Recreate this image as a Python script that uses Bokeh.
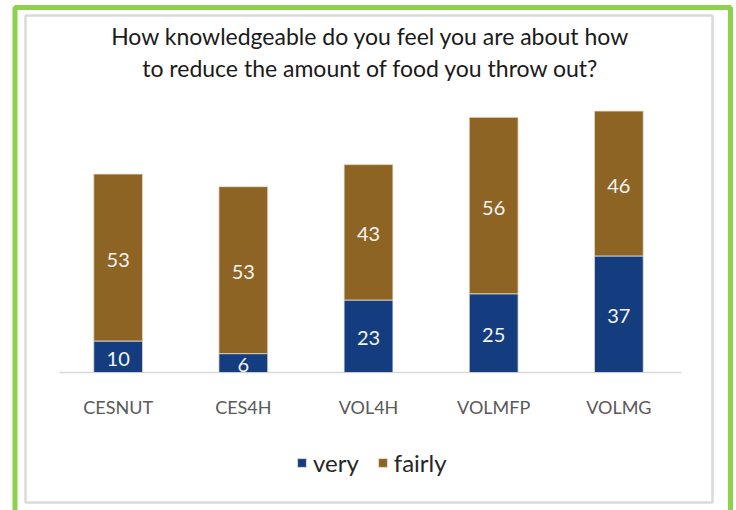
from bokeh.plotting import figure
from bokeh.models import ColumnDataSource, LabelSet, Legend, LegendItem, BoxAnnotation, Label
from bokeh.transform import dodge
from bokeh.embed import file_html
from bokeh.resources import INLINE
from bokeh.core.properties import value

categories = ["CESNUT", "CES4H", "VOL4H", "VOLMFP", "VOLMG"]
very = [10, 6, 23, 25, 37]
fairly = [53, 53, 43, 56, 46]
series = ["very", "fairly"]
colors = ["#133d7e", "#8e6424"]
title_lines = ["How knowledgeable do you feel you are about how",
               "to reduce the amount of food you throw out?"]

FONT = "Lato"
W, H = 736, 510

src = ColumnDataSource(dict(
    cat=categories,
    very=very,
    fairly=fairly,
    very_mid=[v / 2 for v in very],
    fairly_mid=[v + f / 2 for v, f in zip(very, fairly)],
    very_txt=[str(v) for v in very],
    fairly_txt=[str(f) for f in fairly],
))

p = figure(x_range=categories, y_range=(-43.8, 118.1), width=W, height=H,
           output_backend="svg", toolbar_location=None,
           min_border=0, min_border_left=0, min_border_right=0,
           min_border_top=0, min_border_bottom=0)
p.outline_line_color = None
p.background_fill_color = "white"
p.border_fill_color = "white"
p.xgrid.visible = False
p.ygrid.visible = False
p.yaxis.visible = False
p.x_range.range_padding = 0.44
p.x_range.range_padding_units = "absolute"

# baseline across the plot area
base = ColumnDataSource(dict(c0=[categories[0]], c1=[categories[-1]], y=[0]))
p.segment(x0=dodge("c0", -0.47, range=p.x_range), x1=dodge("c1", 0.5, range=p.x_range),
          y0="y", y1="y", source=base, line_color="#d9d9d9", line_width=1.5)

rs = p.vbar_stack(series, x="cat", width=0.39, color=colors, source=src,
                  line_color="#e8e0d0", line_width=0.8)

for col, txt in (("very_mid", "very_txt"), ("fairly_mid", "fairly_txt")):
    p.add_layout(LabelSet(x="cat", y=col, text=txt, source=src, y_offset=-2,
                          text_align="center", text_baseline="middle",
                          text_color="#f4f4f4", text_font=value(FONT),
                          text_font_size="20px"))

ax = p.xaxis[0]
ax.fixed_location = 0
ax.axis_line_color = None
ax.major_tick_line_color = None
ax.minor_tick_line_color = None
ax.major_label_standoff = 17
ax.major_label_text_font = FONT
ax.major_label_text_font_size = "18px"
ax.major_label_text_color = "#595959"

legend = Legend(items=[LegendItem(label=s, renderers=[r]) for s, r in zip(series, rs)],
                orientation="horizontal", location=(296, 33),
                label_text_font=FONT, label_text_font_size="24px",
                label_text_color="#262626", glyph_width=11, glyph_height=11,
                spacing=18, label_standoff=6, border_line_color=None,
                background_fill_alpha=0, margin=0, padding=0)
p.add_layout(legend)

for i, t in enumerate(title_lines):
    p.add_layout(Label(x=370, y=H - (35 + 32 * i), x_units="screen", y_units="screen",
                       text=t, text_align="center", text_baseline="middle",
                       text_font=FONT, text_font_size="23px",
                       text_color="#1a1a1a"))

p.add_layout(BoxAnnotation(left=25, right=712, top=H - 15, bottom=H - 502,
                           left_units="screen", right_units="screen",
                           top_units="screen", bottom_units="screen",
                           fill_alpha=0, line_color="#dadada", line_alpha=1,
                           line_width=2.5, level="overlay"))
p.add_layout(BoxAnnotation(left=14.5, right=730, top=H - 7, bottom=-6,
                           left_units="screen", right_units="screen",
                           top_units="screen", bottom_units="screen",
                           fill_alpha=0, line_color="#8dd14f", line_alpha=1,
                           line_width=5, level="overlay"))

open("out.html", "w").write(file_html(p, INLINE))
